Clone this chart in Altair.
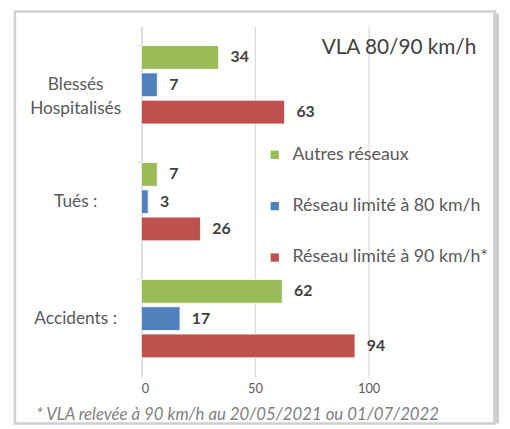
import altair as alt
import pandas as pd

categories = ["Blessés|Hospitalisés", "Tués :", "Accidents :"]
series = ["Autres réseaux", "Réseau limité à 80 km/h", "Réseau limité à 90 km/h*"]
colors = ["#9bbb59", "#4f81bd", "#c0504d"]
values = {
    "Autres réseaux": [34, 7, 62],
    "Réseau limité à 80 km/h": [7, 3, 17],
    "Réseau limité à 90 km/h*": [63, 26, 94],
}
x_ticks = [0, 50, 100]
title_text = "VLA 80/90 km/h"
footnote = "* VLA relevée à 90 km/h au 20/05/2021 ou 01/07/2022"

rows = []
for s in series:
    for c, v in zip(categories, values[s]):
        rows.append({"cat": c, "serie": s, "val": v})
df = pd.DataFrame(rows)

FONT = "Lato"
W, H = 345, 355

y_enc = alt.Y("cat:N", sort=categories,
              scale=alt.Scale(paddingInner=0.33, paddingOuter=0.165),
              axis=alt.Axis(title=None, labelExpr="split(datum.label, '|')",
                            labelAlign="center", labelPadding=62, labelFontSize=17.5,
                            labelColor="#595959", labelFont=FONT, ticks=True,
                            bandPosition=0, tickSize=5, tickColor="#d9d9d9",
                            domainColor="#d9d9d9", domainWidth=1.5, labelLineHeight=25))
x_enc = alt.X("val:Q", scale=alt.Scale(domain=[0, 150], nice=False),
              axis=alt.Axis(values=x_ticks, title=footnote, titleFont=FONT,
                            titleFontStyle="italic", titleFontWeight="normal",
                            titleFontSize=17, titleColor="#7f7f7f",
                            titleAnchor="start", titleAlign="left", titleBaseline="middle",
                            titleX=-107, titleY=38,
                            labelFontSize=13, labelColor="#595959", labelFont=FONT,
                            labelPadding=6, ticks=False, domain=False,
                            gridColor="#d9d9d9", gridWidth=1.2))
yoff = alt.YOffset("serie:N", sort=series,
                   scale=alt.Scale(paddingInner=0.13, paddingOuter=0))
color = alt.Color("serie:N", sort=series,
                  scale=alt.Scale(domain=series, range=colors),
                  legend=alt.Legend(title=None, orient="none", legendX=126, legendY=121,
                                    symbolType="square", symbolSize=70,
                                    labelFontSize=18, labelColor="#595959", labelLimit=300,
                                    labelFont=FONT, rowPadding=34, labelOffset=9,
                                    symbolStrokeWidth=0))

base = alt.Chart(df)
bars = base.mark_bar(stroke="white", strokeWidth=0.8).encode(x=x_enc, y=y_enc, yOffset=yoff, color=color)
labels = base.mark_text(align="left", dx=12, fontWeight="bold", fontSize=16,
                        color="#404040", font=FONT).encode(
    x="val:Q", y=alt.Y("cat:N", sort=categories), yOffset=alt.YOffset("serie:N", sort=series),
    text="val:Q")

frame = alt.Chart(pd.DataFrame({"a": [0]})).mark_rect(
    fill=None, stroke="#d0d0d0", strokeWidth=2.5).encode(
    x=alt.value(-128), x2=alt.value(358), y=alt.value(-15), y2=alt.value(402))
shadow = alt.Chart(pd.DataFrame({"a": [0]})).mark_rect(
    fill="#b8b8b8", opacity=0.7).encode(
    x=alt.value(356), x2=alt.value(362), y=alt.value(-13), y2=alt.value(402))
title = alt.Chart(pd.DataFrame({"t": [title_text]})).mark_text(
    align="right", baseline="middle", fontSize=21, color="#404040", font=FONT).encode(
    x=alt.value(339), y=alt.value(22), text="t:N")

chart = alt.layer(shadow, frame, bars, labels, title).properties(
    width=W, height=H,
    autosize=alt.AutoSizeParams(type="none"),
    padding={"left": 135, "top": 16, "right": 20, "bottom": 50},
    background="white",
).configure_view(stroke=None)

chart.save("out.html", embed_options={"renderer": "svg", "actions": False})
